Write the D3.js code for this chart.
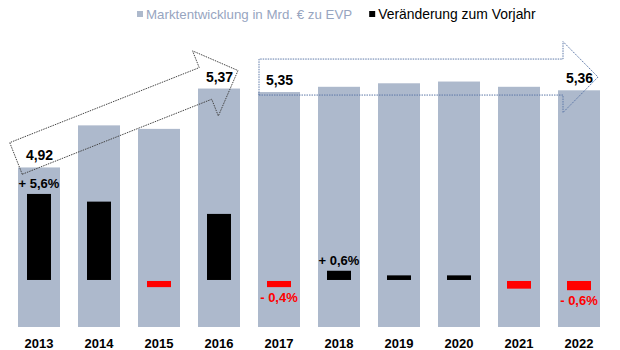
<!DOCTYPE html>
<html>
<head>
<meta charset="utf-8">
<script src="https://cdn.jsdelivr.net/npm/d3@7"></script>
<style>
  html, body { margin: 0; padding: 0; background: #fff; }
  svg { display: block; font-family: "Liberation Sans", Arial, sans-serif; }
</style>
</head>
<body>
<svg id="chart" width="620" height="350"></svg>
<script>
// ── Data ─────────────────────────────────────────────────────────────────────
const YEARS   = ['2013', '2014', '2015', '2016', '2017', '2018', '2019', '2020', '2021', '2022'];
const MARKET  = [4.92, 5.16, 5.14, 5.37, 5.35, 5.38, 5.40, 5.41, 5.38, 5.36];   // Mrd. €
const CHANGE  = [5.6, 5.1, -0.4, 4.3, -0.4, 0.6, 0.3, 0.3, -0.5, -0.6];           // % ggü. Vorjahr
const VALUE_LABEL_YEARS  = ['2013', '2016', '2017', '2022'];
const CHANGE_LABEL_YEARS = ['2013', '2017', '2018', '2022'];
const LEGEND = ['Marktentwicklung in Mrd. € zu EVP', 'Veränderung zum Vorjahr'];

const BAR_COLOR = '#adb9cc';
const NEG_COLOR = '#ff0000';

const svg = d3.select('#chart');

// ── Scales ───────────────────────────────────────────────────────────────────
const x = d3.scaleBand().domain(YEARS).range([9, 609]).paddingInner(0.3).paddingOuter(0.15);
const y = d3.scaleLinear().domain([4.01, 5.51]).range([327, 64]);      // market value
const c = d3.scaleLinear().domain([-2, 6]).range([310.7, 187.8]);      // change in %

const commaFmt = (f) => (v) => f(v).replace('.', ',');
const fmtVal = commaFmt(d3.format('.2f'));
const fmtPct = (v) => (v >= 0 ? '+ ' : '- ') + commaFmt(d3.format('.1f'))(Math.abs(v)) + '%';

const rows = YEARS.map((yr, i) => ({ year: yr, market: MARKET[i], change: CHANGE[i] }));

// ── Market bars ──────────────────────────────────────────────────────────────
svg.append('g').selectAll('rect')
    .data(rows).join('rect')
    .attr('x', d => x(d.year))
    .attr('width', x.bandwidth())
    .attr('y', d => y(d.market))
    .attr('height', d => y(4.01) - y(d.market))
    .attr('fill', BAR_COLOR);

// ── Change bars ──────────────────────────────────────────────────────────────
const cw = 24;
svg.append('g').selectAll('rect')
    .data(rows).join('rect')
    .attr('x', d => x(d.year) + x.bandwidth() / 2 - cw / 2)
    .attr('width', cw)
    .attr('y', d => Math.min(c(0), c(d.change)) + (d.change < 0 ? 1 : 0))
    .attr('height', d => Math.abs(c(d.change) - c(0)))
    .attr('fill', d => d.change < 0 ? NEG_COLOR : '#000');

// ── Arrows (dotted outlines) ─────────────────────────────────────────────────
function arrowPath(x0, y0, x1, y1, shaftHW, headHW, headLen) {
    const dx = x1 - x0, dy = y1 - y0, len = Math.hypot(dx, dy);
    const ux = dx / len, uy = dy / len, nx = -uy, ny = ux;
    const pt = (t, s) => [x0 + ux * t + nx * s, y0 + uy * t + ny * s];
    const b = len - headLen;
    const p = [pt(0, shaftHW), pt(b, shaftHW), pt(b, headHW), pt(len, 0),
               pt(b, -headHW), pt(b, -shaftHW), pt(0, -shaftHW)];
    return 'M' + p.map(q => q.join(',')).join('L') + 'Z';
}

const bw = x.bandwidth();
svg.append('path')
    .attr('d', arrowPath(x('2013') - 2, y(4.92) - 9, x('2016') + bw - 2, y(5.37) - 18, 17, 35, 35))
    .attr('fill', 'none').attr('stroke', '#444').attr('stroke-width', 1)
    .attr('stroke-dasharray', '1.5,1');

svg.append('path')
    .attr('d', arrowPath(x('2017') + 1, y(5.35) - 15, x('2022') + bw - 2, y(5.35) - 15, 18, 35.5, 35))
    .attr('fill', 'none').attr('stroke', '#5d78a8').attr('stroke-width', 1)
    .attr('stroke-dasharray', '1.5,1');

// ── Labels ───────────────────────────────────────────────────────────────────
svg.append('g').selectAll('text')
    .data(rows.filter(d => VALUE_LABEL_YEARS.includes(d.year))).join('text')
    .attr('x', d => x(d.year) + bw / 2 + 0.5)
    .attr('y', d => y(d.market) - 7)
    .attr('text-anchor', 'middle')
    .attr('font-size', 14).attr('font-weight', 'bold').attr('fill', '#000')
    .text(d => fmtVal(d.market));

svg.append('g').selectAll('text')
    .data(rows.filter(d => CHANGE_LABEL_YEARS.includes(d.year))).join('text')
    .attr('x', d => x(d.year) + bw / 2)
    .attr('y', d => d.change >= 0 ? c(d.change) - 6 : c(d.change) + 16)
    .attr('text-anchor', 'middle')
    .attr('font-size', 13).attr('font-weight', 'bold')
    .attr('fill', d => d.change < 0 ? NEG_COLOR : '#000')
    .text(d => fmtPct(d.change));

// ── Year axis ────────────────────────────────────────────────────────────────
const xAxis = svg.append('g')
    .attr('transform', 'translate(0,336)')
    .call(d3.axisBottom(x).tickSize(0).tickPadding(0));
xAxis.select('.domain').remove();
xAxis.selectAll('text')
    .attr('dy', '0.9em')
    .attr('font-family', '"Liberation Sans", Arial, sans-serif')
    .attr('font-size', 13).attr('font-weight', 'bold').attr('fill', '#000');

// ── Legend ───────────────────────────────────────────────────────────────────
const legendColors = [BAR_COLOR, '#000'];
const legendText = ['#97a5bf', '#000'];
const legendSize = [13.3, 13.9];
let lx = 137;
LEGEND.forEach((label, i) => {
    svg.append('rect').attr('x', lx).attr('y', 11).attr('width', 6).attr('height', 6)
        .attr('fill', legendColors[i]);
    const t = svg.append('text').attr('x', lx + 9).attr('y', 19)
        .attr('font-size', legendSize[i]).attr('fill', legendText[i]).text(label);
    lx += 9 + t.node().getComputedTextLength() + 17;
});
</script>
</body>
</html>
